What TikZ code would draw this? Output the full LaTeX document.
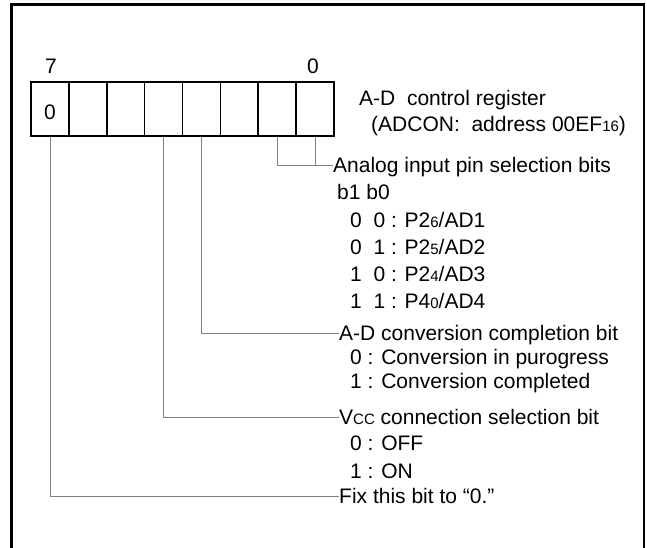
\documentclass[tikz,border=0pt]{standalone}
\usepackage{fontspec}
\setmainfont{Liberation Sans}
\usetikzlibrary{positioning}

% small index digits as printed in the manual (P2_6, 00EF_16, V_CC)
\newcommand{\idx}[1]{{\fontsize{15}{15}\selectfont #1}}

\tikzset{
	cell/.style={draw, line width=1.6pt, minimum width=37.875pt, minimum height=54pt, inner sep=0pt},
	lbl/.style={anchor=west, inner sep=0pt, text height=14pt, text depth=0pt},
	lead/.style={draw=gray, line width=0.8pt},
}

\begin{document}
\begin{tikzpicture}[x=1pt, y=-1pt, font=\fontsize{21}{24}\selectfont]
					
					\useasboundingbox (0,0) rectangle (647,548);
					%\draw[step=20,gray!30,thin] (0,0) grid (647,548);
					
					% frame, open at the bottom
					\draw [line width=2.6pt] (11.5,560)--(11.5,4.3)--(644,4.3)--(644,560);
					
					% register cells, b7 on the left
					\foreach \i in {0,...,7}
						\node [cell] (b\i) at ({334-37.875*(\i+0.5)},109) {};
					\node at (b7.center) [yshift=-3pt] {0};
					\node (msb) at (51,66) {7};
					\node (lsb) at (313,66) {0};
					
					\node [lbl] (reg) at (359,99) {A-D\ \ control register};
					\node [lbl] (adr) at (371,125) {(ADCON:\ \ address 00EF\idx{16})};
					
					
					% bits 1,0
					\node [lbl] (anlg) at (333,165) {Analog input pin selection bits};
					\node [lbl] (bb) at (337,192) {b1 b0};
					\node [lbl] (ad1) at (350,220) {0\ \ 0 : P2\idx{6}/AD1};
					\node [lbl] (ad2) at (350,247) {0\ \ 1 : P2\idx{5}/AD2};
					\node [lbl] (ad3) at (350,274) {1\ \ 0 : P2\idx{4}/AD3};
					\node [lbl] (ad4) at (350,301) {1\ \ 1 : P4\idx{0}/AD4};
					\draw [lead] (b1.south) |- (anlg.west);
					\draw [lead] (b0.south) |- (anlg.west);
					
					% bit 3
					\node [lbl] (conv) at (339,333) {A-D conversion completion bit};
					\node [lbl] (cnv0) at (350,357) {0 : Conversion in purogress};
					\node [lbl] (cnv1) at (350,381) {1 : Conversion completed};
					\draw [lead] (b3.south) |- (conv.west);
					
					% bit 4
					\node [lbl] (vcc) at (339,417) {V\idx{CC} connection selection bit};
					\node [lbl] (off) at (350,443) {0 : OFF};
					\node [lbl] (on) at (350,471) {1 : ON};
					\draw [lead] (b4.south) |- (vcc.west);
					
					% bit 7
					\node [lbl] (fix) at (339,496) {Fix this bit to “0.”};
					\draw [lead] (b7.south) |- (fix.west);
					
				\end{tikzpicture}
\end{document}
